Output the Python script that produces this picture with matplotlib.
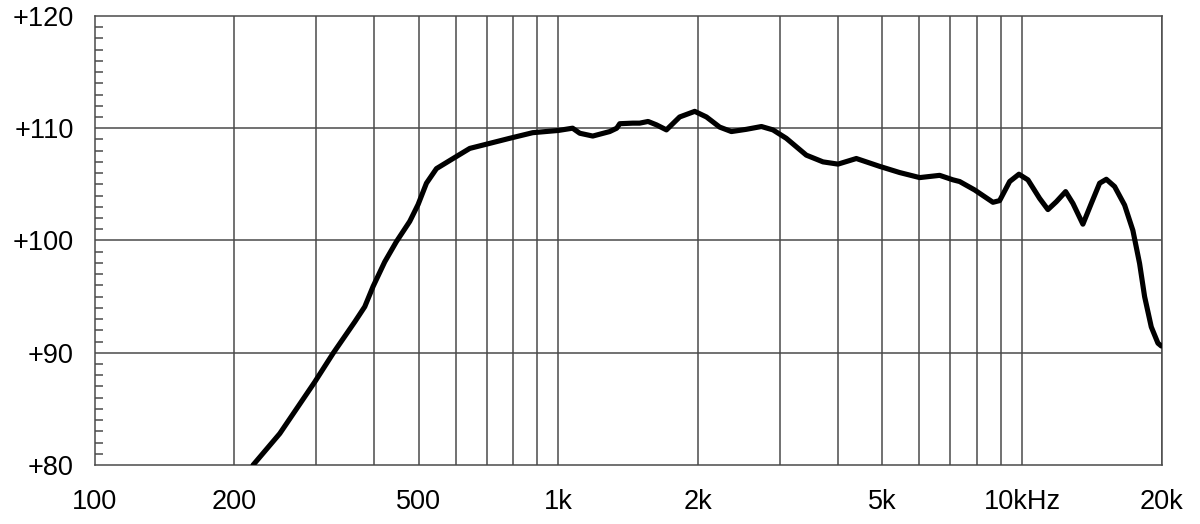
import numpy as np
import matplotlib.pyplot as plt

plt.rcParams['font.family'] = ['Liberation Sans', 'DejaVu Sans']

# frequency response (Hz, dB SPL)
freq = [219.5, 250.6, 298.2, 326.6, 363.7, 382.2, 398.3, 422.1, 447.3, 477.9,
        498.1, 519.2, 545.7, 592.6, 643.9, 711, 785, 880, 1000, 1073, 1112,
        1186, 1290, 1336, 1356, 1447, 1497, 1561, 1627, 1710, 1826, 1968, 2086,
        2227, 2361, 2543, 2741, 2902, 3101, 3425, 3721, 4009, 4391, 4931, 5445,
        6015, 6642, 7096, 7335, 7902, 8655, 8947, 9404, 9847, 10297, 10911,
        11372, 11856, 12417, 12876, 13529, 14106, 14701, 15198, 15838, 16643,
        17341, 17929, 18381, 19000, 19640, 19970]
spl = [80.0, 82.8, 87.4, 89.95, 92.75, 94.1, 95.9, 98.1, 99.9, 101.7,
       103.2, 105.1, 106.4, 107.3, 108.2, 108.65, 109.1, 109.6, 109.8, 110.0,
       109.55, 109.3, 109.7, 110.0, 110.4, 110.45, 110.45, 110.6, 110.3,
       109.85, 111.0, 111.5, 111.0, 110.1, 109.7, 109.9, 110.15, 109.85, 109.1,
       107.6, 107.0, 106.8, 107.3, 106.6, 106.05, 105.6, 105.8, 105.4, 105.25,
       104.5, 103.4, 103.55, 105.25, 105.9, 105.4, 103.75, 102.75, 103.45,
       104.35, 103.3, 101.45, 103.3, 105.1, 105.45, 104.8, 103.15, 100.9,
       97.95, 95.0, 92.3, 90.85, 90.6]

grid_freqs = [200, 300, 400, 500, 600, 700, 800, 900, 1000, 2000, 3000, 4000,
              5000, 6000, 7000, 8000, 9000, 10000, 20000]
label_freqs = [100, 200, 500, 1000, 2000, 5000, 10000, 20000]
label_text = ['100', '200', '500', '1k', '2k', '5k', '10kHz', '20k']
y_major = [80, 90, 100, 110, 120]
y_text = ['+80', '+90', '+100', '+110', '+120']

fig = plt.figure(figsize=(12, 5.24), dpi=100)
ax = fig.add_axes([0.079, 0.1126, 0.889, 0.857])

gc = '#4a4a4a'
for f in grid_freqs:
    ax.axvline(f, color=gc, lw=1.1, zorder=1)
for v in y_major[1:-1]:
    ax.axhline(v, color=gc, lw=1.1, zorder=1)

ax.plot(freq, spl, color='black', lw=3.7, solid_capstyle='round',
        solid_joinstyle='round', zorder=3)

ax.set_xscale('log')
ax.set_xlim(100, 20000)
ax.set_ylim(80, 120)

ax.set_xticks(label_freqs)
ax.set_xticklabels(label_text)
ax.xaxis.set_minor_locator(plt.NullLocator())
ax.tick_params(axis='x', length=0, pad=17, labelsize=19.5)

ax.set_yticks(y_major)
ax.set_yticklabels(y_text)
ax.set_yticks(np.arange(80, 121, 1), minor=True)
ax.tick_params(axis='y', which='major', length=0, pad=15, labelsize=19.5)
ax.tick_params(axis='y', which='minor', direction='in', length=6,
               width=1.1, color=gc)

for s in ax.spines.values():
    s.set_color(gc)
    s.set_linewidth(1.1)

fig.savefig('out.png', dpi=100)
